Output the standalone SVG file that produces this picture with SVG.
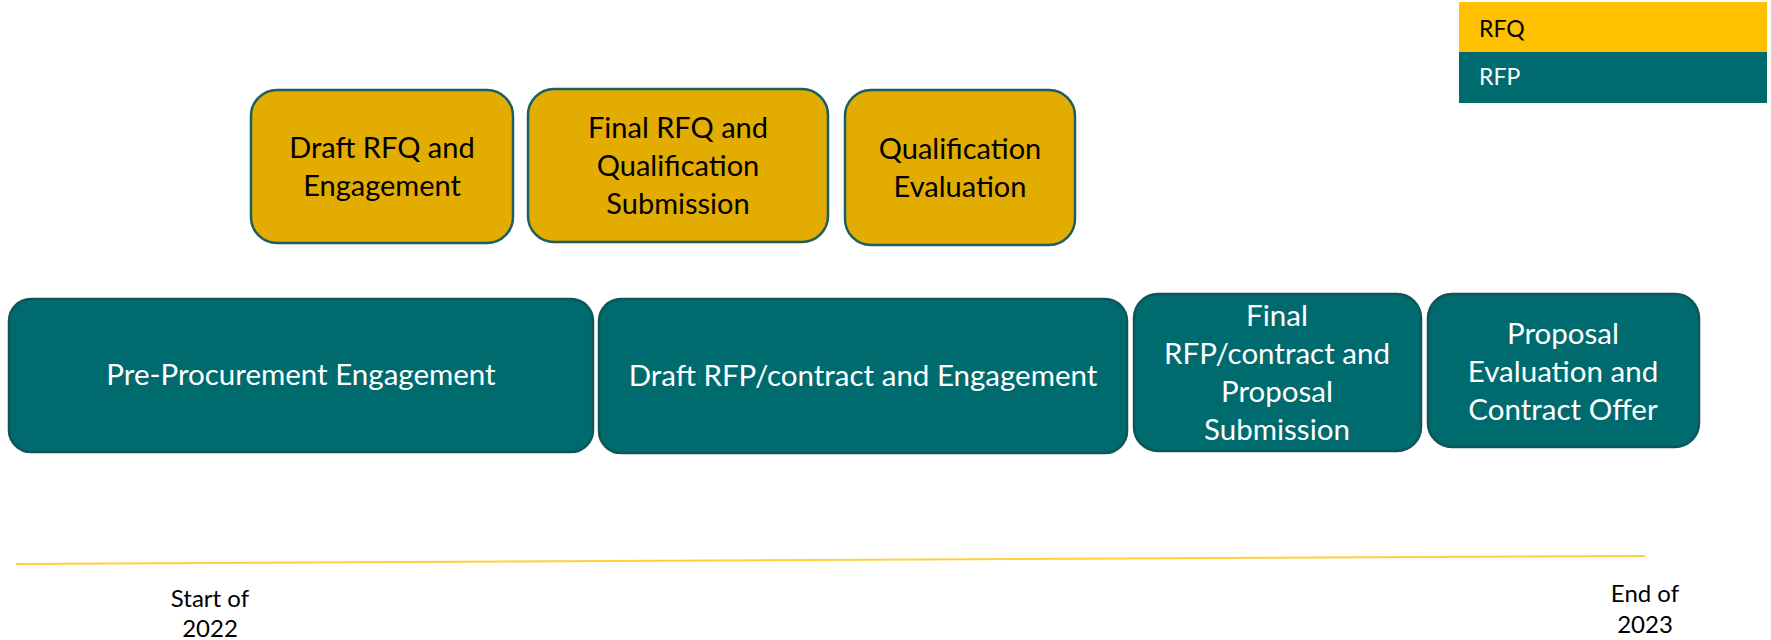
<svg xmlns="http://www.w3.org/2000/svg" width="1771" height="640" viewBox="0 0 1771 640">
  <style>
    .rfq { fill: #E3AC00; stroke: #1D5E60; stroke-width: 2.5; }
    .rfp { fill: #006B6E; stroke: #0E5557; stroke-width: 2.5; }
    text { font-family: Lato, "Liberation Sans", sans-serif; text-anchor: middle; }
    .dark { fill: #000000; font-size: 29px; }
    .light { fill: #FFFFFF; font-size: 29.5px; }
    .axis { fill: #000000; font-size: 24px; }
    .key { font-size: 23px; text-anchor: start; }
  </style>
  <rect width="1771" height="640" fill="#FFFFFF"/>

  <!-- legend -->
  <g id="legend">
    <rect x="1459" y="2" width="308" height="50" fill="#FFC000"/>
    <rect x="1459" y="52" width="308" height="51" fill="#006B6E"/>
    <text class="key" x="1479" y="37" fill="#000000">RFQ</text>
    <text class="key" x="1479" y="85" fill="#FFFFFF">RFP</text>
  </g>

  <!-- RFQ stages -->
  <g id="draft-rfq">
    <rect class="rfq" x="251" y="90" width="262" height="153" rx="26"/>
    <text class="dark" x="382" y="158">Draft RFQ and</text>
    <text class="dark" x="382" y="196">Engagement</text>
  </g>
  <g id="final-rfq">
    <rect class="rfq" x="528" y="89" width="300" height="153" rx="26"/>
    <text class="dark" x="678" y="138">Final RFQ and</text>
    <text class="dark" x="678" y="176">Qualification</text>
    <text class="dark" x="678" y="214">Submission</text>
  </g>
  <g id="qualification-evaluation">
    <rect class="rfq" x="845" y="90" width="230" height="155" rx="26"/>
    <text class="dark" x="960" y="159">Qualification</text>
    <text class="dark" x="960" y="197">Evaluation</text>
  </g>

  <!-- RFP stages -->
  <g id="pre-procurement">
    <rect class="rfp" x="9" y="299" width="584" height="153" rx="22"/>
    <text class="light" x="301" y="385">Pre-Procurement Engagement</text>
  </g>
  <g id="draft-rfp">
    <rect class="rfp" x="599" y="299" width="528" height="154" rx="22"/>
    <text class="light" x="863" y="386">Draft RFP/contract and Engagement</text>
  </g>
  <g id="final-rfp">
    <rect class="rfp" x="1134" y="294" width="287" height="157" rx="24"/>
    <text class="light" x="1277" y="326">Final</text>
    <text class="light" x="1277" y="364">RFP/contract and</text>
    <text class="light" x="1277" y="402">Proposal</text>
    <text class="light" x="1277" y="440">Submission</text>
  </g>
  <g id="proposal-evaluation">
    <rect class="rfp" x="1428" y="294" width="271" height="153" rx="24"/>
    <text class="light" x="1563" y="344">Proposal</text>
    <text class="light" x="1563" y="382">Evaluation and</text>
    <text class="light" x="1563" y="420">Contract Offer</text>
  </g>

  <!-- timeline -->
  <g id="connectors">
    <line x1="16" y1="564" x2="1645" y2="556" stroke="#FFD040" stroke-width="2"/>
  </g>
  <g id="start-label">
    <text class="axis" x="210" y="607">Start of</text>
    <text class="axis" x="210" y="637">2022</text>
  </g>
  <g id="end-label">
    <text class="axis" x="1645" y="602">End of</text>
    <text class="axis" x="1645" y="633">2023</text>
  </g>
</svg>
